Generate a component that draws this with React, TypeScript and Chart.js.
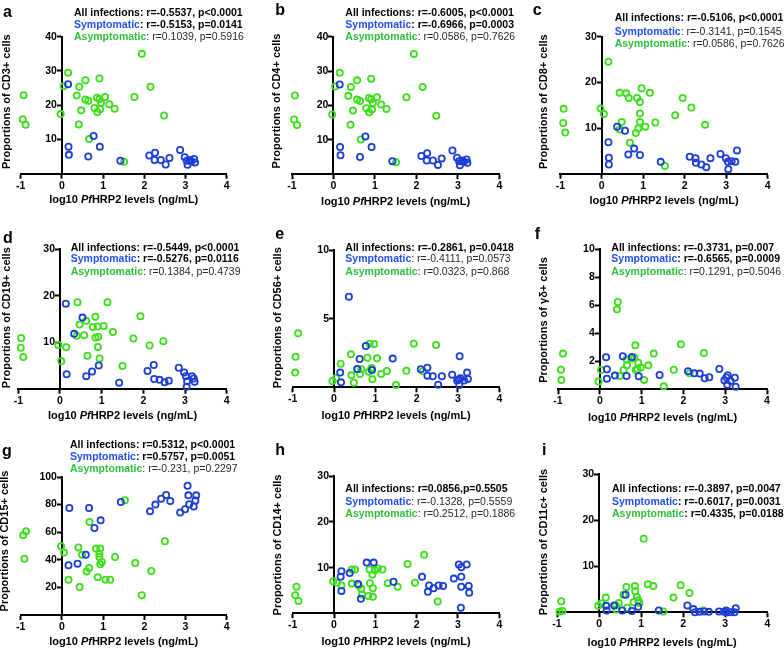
import React, { useEffect, useRef } from "react";
import { Chart, registerables } from "chart.js";

Chart.register(...registerables);

// ---------- data ----------
const xTickValues = [-1, 0, 1, 2, 3, 4];

const cd3Symptomatic: [number, number][] = [
  [0.15, 26.1], [0.16, 7.9], [0.17, 5.5], [0.64, 5.0], [0.77, 11.0], [0.92, 7.9], [1.42, 3.8],
  [2.12, 5.3], [2.26, 6.1], [2.25, 4.0], [2.40, 4.0], [2.52, 2.7], [2.61, 4.6], [2.87, 6.9],
  [2.98, 4.8], [3.03, 3.8], [3.05, 2.6], [3.11, 4.0], [3.21, 4.3], [3.23, 3.3], [3.14, 3.6],
];
const cd3Asymptomatic: [number, number][] = [
  [-0.93, 22.9], [-0.95, 15.9], [-0.88, 14.3], [-0.03, 17.4], [0.04, 25.5], [0.15, 29.5],
  [0.36, 22.8], [0.42, 25.4], [0.41, 14.4], [0.47, 18.5], [0.57, 27.3], [0.57, 21.7],
  [0.64, 21.3], [0.66, 10.1], [0.79, 19.2], [0.85, 22.2], [0.86, 18.0], [0.91, 27.8],
  [0.91, 21.8], [0.93, 18.8], [0.95, 20.7], [1.05, 22.4], [1.15, 20.3], [1.28, 19.0],
  [1.51, 3.5], [1.76, 22.4], [1.94, 35.0], [2.15, 25.4], [2.48, 17.0],
];
const cd4Symptomatic: [number, number][] = [
  [0.15, 26.1], [0.16, 7.9], [0.17, 5.5], [0.64, 5.0], [0.77, 11.0], [0.92, 7.9], [1.42, 3.8],
  [2.12, 5.3], [2.26, 6.1], [2.25, 4.0], [2.40, 4.0], [2.52, 2.7], [2.61, 4.6], [2.87, 6.9],
  [2.98, 4.8], [3.03, 3.8], [3.05, 2.6], [3.11, 4.0], [3.21, 4.3], [3.23, 3.3], [3.14, 3.6],
];
const cd4Asymptomatic: [number, number][] = [
  [-0.93, 22.9], [-0.95, 15.9], [-0.88, 14.3], [-0.03, 17.4], [0.04, 25.5], [0.15, 29.5],
  [0.36, 22.8], [0.42, 25.4], [0.41, 14.4], [0.47, 18.5], [0.57, 27.3], [0.57, 21.7],
  [0.64, 21.3], [0.66, 10.1], [0.79, 19.2], [0.85, 22.2], [0.86, 18.0], [0.91, 27.8],
  [0.91, 21.8], [0.93, 18.8], [0.95, 20.7], [1.05, 22.4], [1.15, 20.3], [1.28, 19.0],
  [1.51, 3.5], [1.76, 22.4], [1.94, 35.0], [2.15, 25.4], [2.48, 17.0],
];
const cd8Symptomatic: [number, number][] = [
  [0.16, 6.9], [0.17, 3.5], [0.17, 2.0], [0.37, 10.3], [0.56, 9.4], [0.64, 4.2], [0.78, 5.5],
  [0.92, 4.1], [1.42, 2.6], [2.12, 3.7], [2.26, 3.4], [2.27, 2.4], [2.40, 2.0], [2.52, 1.4],
  [2.62, 3.4], [2.86, 4.3], [2.99, 3.4], [3.04, 2.6], [3.05, 1.0], [3.13, 2.7], [3.22, 2.6],
  [3.26, 5.1],
];
const cd8Asymptomatic: [number, number][] = [
  [-0.92, 14.2], [-0.93, 11.1], [-0.88, 9.0], [-0.03, 14.3], [0.05, 13.1], [0.16, 24.5],
  [0.43, 17.7], [0.48, 11.3], [0.43, 9.7], [0.59, 17.6], [0.65, 16.6], [0.68, 6.8],
  [0.85, 16.6], [0.88, 9.9], [0.82, 8.9], [0.92, 15.7], [0.92, 13.2], [0.92, 11.3],
  [0.96, 18.7], [1.05, 10.3], [1.16, 17.7], [1.29, 11.2], [1.52, 1.7], [1.77, 12.8],
  [1.95, 16.6], [2.16, 14.5], [2.49, 10.7],
];
const cd19Symptomatic: [number, number][] = [
  [0.14, 18.3], [0.16, 3.1], [0.34, 11.8], [0.54, 15.3], [0.63, 2.7], [0.77, 3.7], [0.93, 5.0],
  [1.42, 1.3], [2.10, 3.8], [2.25, 5.1], [2.26, 2.1], [2.39, 1.9], [2.51, 1.4], [2.61, 1.7],
  [2.85, 4.5], [2.98, 3.5], [3.02, 2.7], [3.05, 1.6], [3.04, 0.4], [3.17, 2.7], [3.21, 2.2],
  [3.23, 1.5],
];
const cd19Asymptomatic: [number, number][] = [
  [-0.93, 10.9], [-0.94, 8.8], [-0.88, 6.8], [-0.04, 9.4], [0.03, 5.9], [0.15, 8.9],
  [0.42, 18.6], [0.40, 11.4], [0.47, 13.8], [0.58, 11.5], [0.63, 14.6], [0.66, 7.1],
  [0.79, 13.3], [0.85, 15.5], [0.85, 11.0], [0.90, 13.4], [0.91, 9.0], [0.92, 11.2],
  [0.95, 6.5], [1.05, 13.5], [1.14, 18.6], [1.27, 12.2], [1.50, 4.9], [1.76, 10.8],
  [1.93, 15.6], [2.15, 9.3], [2.48, 10.2],
];
const cd56Symptomatic: [number, number][] = [
  [0.36, 6.6], [0.15, 1.07], [0.17, 0.36], [0.56, 1.33], [0.62, 2.06], [0.77, 3.01],
  [0.92, 1.26], [1.42, 2.09], [2.10, 1.31], [2.26, 1.43], [2.26, 0.85], [2.39, 0.8],
  [2.52, 0.19], [2.61, 0.8], [2.86, 0.92], [3.04, 2.26], [2.98, 0.49], [3.02, 0.56],
  [3.06, 0.66], [3.03, 0.17], [3.15, 0.49], [3.22, 1.07], [3.24, 0.61],
];
const cd56Asymptomatic: [number, number][] = [
  [-0.87, 3.93], [-0.93, 2.23], [-0.94, 1.07], [-0.04, 0.46], [0.05, 0.66], [0.16, 1.72],
  [0.41, 2.4], [0.42, 0.87], [0.48, 0.34], [0.57, 1.31], [0.63, 0.97], [0.66, 1.31],
  [0.81, 2.16], [0.86, 3.18], [0.84, 1.14], [0.90, 1.31], [0.93, 0.58], [0.97, 3.16],
  [0.91, 1.41], [1.04, 2.11], [1.14, 0.97], [1.28, 1.19], [1.50, 0.17], [1.75, 1.21],
  [1.93, 3.18], [2.15, 1.17], [2.47, 3.08],
];
const gdSymptomatic: [number, number][] = [
  [0.15, 2.29], [0.17, 1.43], [0.17, 0.76], [0.36, 0.98], [0.55, 2.36], [0.64, 0.95],
  [0.77, 2.31], [0.93, 0.93], [1.43, 1.02], [2.11, 1.29], [2.26, 1.14], [2.39, 1.12],
  [2.51, 0.79], [2.62, 0.86], [2.86, 1.45], [2.98, 0.64], [3.06, 1.0], [3.05, 0.33],
  [3.13, 0.6], [3.23, 0.83], [3.25, 0.19], [3.03, 0.85],
];
const gdAsymptomatic: [number, number][] = [
  [-0.88, 2.55], [-0.93, 1.4], [-0.92, 0.67], [-0.03, 0.55], [0.03, 1.38], [0.43, 6.24],
  [0.41, 5.71], [0.48, 0.95], [0.57, 1.38], [0.64, 2.14], [0.65, 1.71], [0.75, 2.19],
  [0.83, 2.26], [0.85, 3.14], [0.86, 1.38], [0.92, 1.9], [0.9, 1.43], [0.98, 1.55],
  [1.06, 0.67], [1.16, 1.71], [1.29, 2.55], [1.53, 0.21], [1.77, 1.4], [1.94, 3.21],
  [2.15, 1.14], [2.49, 2.6],
];
const cd15Symptomatic: [number, number][] = [
  [0.18, 77.5], [0.16, 36.0], [0.38, 37.2], [0.58, 43.7], [0.66, 77.5], [0.79, 63.0],
  [0.94, 68.6], [1.43, 81.9], [2.14, 75.1], [2.27, 80.0], [2.41, 84.3], [2.53, 87.0],
  [2.63, 82.6], [2.87, 74.2], [2.99, 76.6], [3.05, 93.7], [3.07, 86.7], [3.09, 80.2],
  [3.2, 78.7], [3.24, 82.9], [3.26, 86.7],
];
const cd15Asymptomatic: [number, number][] = [
  [-0.87, 60.6], [-0.94, 57.7], [-0.91, 40.8], [-0.02, 49.8], [0.05, 45.2], [0.16, 25.6],
  [0.40, 49.0], [0.49, 43.7], [0.43, 20.3], [0.60, 31.6], [0.66, 34.1], [0.67, 67.4],
  [0.83, 48.1], [0.91, 44.4], [0.93, 48.1], [0.91, 42.0], [0.93, 36.7], [0.97, 38.4],
  [0.87, 27.3], [1.06, 25.6], [1.17, 25.6], [1.29, 42.0], [1.53, 83.1], [1.78, 37.7],
  [1.94, 14.3], [2.17, 31.9], [2.50, 53.4],
];
const cd14Symptomatic: [number, number][] = [
  [0.18, 9.2], [0.16, 8.0], [0.18, 4.9], [0.38, 8.8], [0.58, 6.4], [0.65, 3.2], [0.79, 11.1],
  [0.96, 11.1], [1.44, 6.9], [2.13, 8.0], [2.30, 6.1], [2.27, 4.7], [2.41, 5.5], [2.53, 6.1],
  [2.64, 6.0], [2.90, 7.6], [3.02, 10.7], [3.08, 10.1], [3.08, 8.0], [3.08, 5.8], [3.07, 1.2],
  [3.21, 10.7], [3.26, 6.0], [3.27, 4.5],
];
const cd14Asymptomatic: [number, number][] = [
  [-0.91, 5.84], [-0.94, 3.94], [-0.86, 2.7], [-0.02, 7.0], [0.07, 6.7], [0.18, 6.1],
  [0.43, 9.6], [0.51, 9.6], [0.43, 6.5], [0.60, 6.1], [0.66, 5.4], [0.68, 4.1], [0.83, 3.8],
  [0.87, 6.6], [0.86, 9.6], [0.93, 8.5], [0.94, 5.5], [0.94, 3.6], [0.99, 9.4], [1.06, 9.8],
  [1.17, 9.6], [1.30, 6.6], [1.54, 5.8], [1.78, 10.8], [1.96, 6.7], [2.18, 12.8], [2.51, 2.6],
];
const cd11cSymptomatic: [number, number][] = [
  [0.17, 1.4], [0.18, 0.4], [0.36, 1.5], [0.55, 0.4], [0.63, 3.8], [0.78, 0.3], [0.93, 1.2],
  [1.42, 0.4], [2.10, 1.5], [2.24, 0.7], [2.28, 0.0], [2.39, 0.1], [2.50, 0.2], [2.61, 0.1],
  [2.85, 0.2], [2.97, 0.1], [3.02, 0.4], [3.04, 0.0], [3.13, 0.0], [3.22, 0.0], [3.25, 0.9],
];
const cd11cAsymptomatic: [number, number][] = [
  [-0.90, 2.4], [-0.94, 0.1], [-0.87, 0.3], [-0.02, 1.4], [0.05, 1.9], [0.16, 3.2],
  [0.40, 1.5], [0.47, 2.0], [0.41, 0.6], [0.58, 3.8], [0.65, 5.5], [0.67, 1.0], [0.85, 5.7],
  [0.86, 4.6], [0.90, 3.3], [0.93, 2.6], [0.96, 2.0], [0.82, 2.2], [1.06, 16.0], [1.16, 6.1],
  [1.29, 5.7], [1.53, 0.2], [1.77, 3.2], [1.94, 5.9], [2.15, 4.2], [2.48, 0.4],
];

const yTicks40 = [10, 20, 30, 40];
const yTicks30 = [10, 20, 30];
const yTicks10by5 = [5, 10];
const yTicks10by2 = [2, 4, 6, 8, 10];
const yTicks100 = [20, 40, 60, 80, 100];

const letters = ["a", "b", "c", "d", "e", "f", "g", "h", "i"];
const yTitles = [
  "Proportions of CD3+ cells",
  "Proportions of CD4+ cells",
  "Proportions of CD8+ cells",
  "Proportions of CD19+ cells",
  "Proportions of CD56+ cells",
  "Proportions of \u03b3\u03b4+ cells",
  "Proportions of CD15+ cells",
  "Proportions of CD14+ cells",
  "Proportions of CD11c+ cells",
];
const allStats = [
  "r=-0.5537, p<0.0001", "r=-0.6005, p<0.0001", "r=-0.5106, p<0.0001",
  "r=-0.5449, p<0.0001", "r=-0.2861, p=0.0418", "r=-0.3731, p=0.007",
  "r=0.5312, p<0.0001", "r=0.0856,p=0.5505", "r=-0.3897, p=0.0047",
];
const symStats = [
  "r=-0.5153, p=0.0141", "r=-0.6966, p=0.0003", "r=-0.3141, p=0.1545",
  "r=-0.5276, p=0.0116", "r=-0.4111, p=0.0573", "r=-0.6565, p=0.0009",
  "r=0.5757, p=0.0051", "r=-0.1328, p=0.5559", "r=-0.6017, p=0.0031",
];
const asymStats = [
  "r=0.1039, p=0.5916", "r=0.0586, p=0.7626", "r=0.0586, p=0.7626",
  "r=0.1384, p=0.4739", "r=0.0323, p=0.868", "r=0.1291, p=0.5046",
  "r=-0.231, p=0.2297", "r=0.2512, p=0.1886", "r=0.4335, p=0.0188",
];
const allBold = [true, true, true, true, true, true, true, true, true];
const symBold = [true, true, false, true, false, true, true, false, true];
const asymBold = [false, false, false, false, false, false, false, false, true];

// ---------- layout / styles ----------
const FONT = "'Liberation Sans', Arial, Helvetica, sans-serif";
const BLUE_PT = "#1d3fd8";
const GREEN_PT = "#3ddf1c";
const BLUE_TXT = "#2350ee";
const GREEN_TXT = "#2fbf3a";
const REG_TXT = "#2a2a2a";

const colLeft = [0, 262, 522];
const colWidth = [262, 260, 262];
const rowTop = [0, 216, 432];
const H = 216;
const XAXIS_H = 24;

type Layout = {
  L: number; R: number; T: number; B: number; yMax: number; yTicks: number[];
  sx: number; sy: number[]; lx: number; ly: number; ytx: number; yty: number; xty: number;
};

const layouts: Layout[] = [
  { L: 20.7, R: 226.7, T: 36.7, B: 173.7, yMax: 40, yTicks: yTicks40, sx: 74, sy: [13.3, 25, 36.7], lx: 3, ly: 16.5, ytx: 7, yty: 101.7, xty: 200 },
  { L: 30, R: 237.3, T: 36.7, B: 174.2, yMax: 40, yTicks: yTicks40, sx: 83.3, sy: [13.3, 25, 36.7], lx: 13.3, ly: 15, ytx: 15, yty: 101, xty: 201.7 },
  { L: 38.3, R: 245.7, T: 36.7, B: 173.7, yMax: 30, yTicks: yTicks30, sx: 92.7, sy: [18.3, 32, 44.3], lx: 10.7, ly: 15, ytx: 21.7, yty: 101.7, xty: 201 },
  { L: 18.3, R: 226.7, T: 33.3, B: 172.7, yMax: 30, yTicks: yTicks30, sx: 70.7, sy: [31.7, 43.3, 55.7], lx: 3, ly: 26.7, ytx: 6.7, yty: 101.7, xty: 200 },
  { L: 30.7, R: 237.3, T: 34, B: 171.3, yMax: 10, yTicks: yTicks10by5, sx: 83.3, sy: [31.7, 43.3, 55.7], lx: 13.3, ly: 23.3, ytx: 16, yty: 101.7, xty: 200 },
  { L: 36, R: 245, T: 33.3, B: 173.3, yMax: 10, yTicks: yTicks10by2, sx: 89.3, sy: [31.7, 43.3, 55.7], lx: 12.7, ly: 23.3, ytx: 21.7, yty: 104, xty: 201.7 },
  { L: 20.7, R: 226.7, T: 45, B: 183, yMax: 100, yTicks: yTicks100, sx: 70, sy: [13.3, 25, 36.7], lx: 2, ly: 23.5, ytx: 5, yty: 109, xty: 210 },
  { L: 30.7, R: 237.3, T: 44.3, B: 181.3, yMax: 30, yTicks: yTicks30, sx: 83.3, sy: [57.3, 70, 81.7], lx: 13.3, ly: 23.3, ytx: 16, yty: 113, xty: 210 },
  { L: 35, R: 245.3, T: 42.3, B: 180.3, yMax: 30, yTicks: yTicks30, sx: 90, sy: [57.3, 70, 82.3], lx: 20, ly: 23.3, ytx: 21.7, yty: 110, xty: 210.7 },
];

const seriesSym = [cd3Symptomatic, cd4Symptomatic, cd8Symptomatic, cd19Symptomatic, cd56Symptomatic, gdSymptomatic, cd15Symptomatic, cd14Symptomatic, cd11cSymptomatic];
const seriesAsym = [cd3Asymptomatic, cd4Asymptomatic, cd8Asymptomatic, cd19Asymptomatic, cd56Asymptomatic, gdAsymptomatic, cd15Asymptomatic, cd14Asymptomatic, cd11cAsymptomatic];

type Seg = { t: string; bold: boolean; italic?: boolean; color: string };

function drawSegs(ctx: CanvasRenderingContext2D, segs: Seg[], x: number, y: number, size: number, center = false) {
  const fontOf = (s: Seg) => `${s.italic ? "italic " : ""}${s.bold ? "bold " : ""}${size}px ${FONT}`;
  let total = 0;
  segs.forEach((s) => { ctx.font = fontOf(s); total += ctx.measureText(s.t).width; });
  let cx = center ? x - total / 2 : x;
  ctx.textAlign = "left";
  ctx.textBaseline = "middle";
  segs.forEach((s) => {
    ctx.font = fontOf(s);
    ctx.fillStyle = s.color;
    ctx.fillText(s.t, cx, y);
    cx += ctx.measureText(s.t).width;
  });
}

// shifts the labels of the y axis (placed at x = 0) a few pixels to the left of the axis line
const yLabelGap = {
  id: "yLabelGap",
  beforeDraw(chart: any) {
    const ys = chart.scales.y;
    if (!ys || !ys.getLabelItems) return;
    const items = ys.getLabelItems(chart.chartArea);
    if (items && !(items as any).__shifted) {
      items.forEach((it: any) => {
        if (it.options && it.options.translation) it.options.translation[0] -= 5;
      });
      (items as any).__shifted = true;
    }
  },
};

function Panel({ idx }: { idx: number }) {
  const ref = useRef<HTMLCanvasElement>(null);
  const col = idx % 3;
  const row = Math.floor(idx / 3);
  const W = colWidth[col];
  useEffect(() => {
    const lay = layouts[idx];
    const textPlugin = {
      id: "panelText" + idx,
      afterDraw(chart: any) {
        const ctx: CanvasRenderingContext2D = chart.ctx;
        const ca = chart.chartArea;
        ctx.save();
        ctx.font = `bold 16px ${FONT}`;
        ctx.fillStyle = "#000";
        ctx.textAlign = "left";
        ctx.textBaseline = "alphabetic";
        ctx.fillText(letters[idx], lay.lx, lay.ly);
        const fs = 10.5;
        drawSegs(ctx, [
          { t: "All infections: ", bold: true, color: "#000" },
          { t: allStats[idx], bold: allBold[idx], color: allBold[idx] ? "#000" : REG_TXT },
        ], lay.sx, lay.sy[0], fs);
        drawSegs(ctx, [
          { t: "Symptomatic", bold: true, color: BLUE_TXT },
          { t: ": " + symStats[idx], bold: symBold[idx], color: symBold[idx] ? "#000" : REG_TXT },
        ], lay.sx, lay.sy[1], fs);
        drawSegs(ctx, [
          { t: "Asymptomatic", bold: true, color: GREEN_TXT },
          { t: ": " + asymStats[idx], bold: asymBold[idx], color: asymBold[idx] ? "#000" : REG_TXT },
        ], lay.sx, lay.sy[2], fs);
        drawSegs(ctx, [
          { t: "log10 ", bold: true, color: "#000" },
          { t: "Pf", bold: true, italic: true, color: "#000" },
          { t: "HRP2 levels (ng/mL)", bold: true, color: "#000" },
        ], (ca.left + ca.right) / 2, lay.xty, 11, true);
        ctx.translate(lay.ytx, lay.yty);
        ctx.rotate(-Math.PI / 2);
        drawSegs(ctx, [{ t: yTitles[idx], bold: true, color: "#000" }], 0, 0, 11, true);
        ctx.restore();
      },
    };
    const tickFont = { family: FONT, size: 10.5, weight: "bold" as const };
    const chart = new Chart(ref.current!, {
      type: "scatter",
      data: {
        datasets: [
          {
            label: "Symptomatic",
            data: seriesSym[idx].map(([x, y]) => ({ x, y })),
            borderColor: BLUE_PT,
            backgroundColor: "rgba(0,0,0,0)",
            pointRadius: 3.1,
            pointBorderWidth: 1.8,
            pointHoverRadius: 3.1,
            clip: false as any,
          },
          {
            label: "Asymptomatic",
            data: seriesAsym[idx].map(([x, y]) => ({ x, y })),
            borderColor: GREEN_PT,
            backgroundColor: "rgba(0,0,0,0)",
            pointRadius: 3.1,
            pointBorderWidth: 1.8,
            pointHoverRadius: 3.1,
            clip: false as any,
          },
        ],
      },
      options: {
        responsive: false,
        animation: false,
        events: [],
        layout: { padding: { left: lay.L, right: W - lay.R, top: lay.T, bottom: H - lay.B - XAXIS_H } },
        plugins: { legend: { display: false }, tooltip: { enabled: false }, title: { display: false } },
        scales: {
          x: {
            type: "linear",
            position: "bottom",
            min: -1,
            max: 4,
            afterFit: (s: any) => { s.height = XAXIS_H; },
            afterBuildTicks: (s: any) => { s.ticks = xTickValues.map((v) => ({ value: v })); },
            ticks: { font: tickFont, color: "#000", padding: 1, maxRotation: 0, autoSkip: false },
            grid: { display: true, drawOnChartArea: false, drawTicks: true, tickLength: 5, tickColor: "#000", tickWidth: 2, color: "#000" },
            border: { display: true, color: "#000", width: 2 },
          },
          y: {
            type: "linear",
            position: { x: 0 } as any,
            min: 0,
            max: lay.yMax,
            afterBuildTicks: (s: any) => { s.ticks = lay.yTicks.map((v) => ({ value: v })); },
            ticks: { font: tickFont, color: "#000", padding: 2, autoSkip: false },
            grid: { display: true, drawOnChartArea: false, drawTicks: true, tickLength: 4, tickColor: "#000", tickWidth: 2, color: "#000" },
            border: { display: true, color: "#000", width: 2 },
          },
        },
      },
      plugins: [yLabelGap, textPlugin],
    });
    return () => chart.destroy();
  }, [idx, W]);
  return (
    <div style={{ position: "absolute", left: colLeft[col], top: rowTop[row], width: W, height: H }}>
      <canvas ref={ref} width={W} height={H} style={{ display: "block", width: W, height: H }} />
    </div>
  );
}

export default function App() {
  useEffect(() => {
    document.body.style.margin = "0";
    document.body.style.background = "#fff";
  }, []);
  return (
    <div style={{ position: "absolute", left: 0, top: 0, width: 784, height: 648, background: "#fff", overflow: "hidden" }}>
      {letters.map((_, i) => <Panel key={i} idx={i} />)}
    </div>
  );
}
